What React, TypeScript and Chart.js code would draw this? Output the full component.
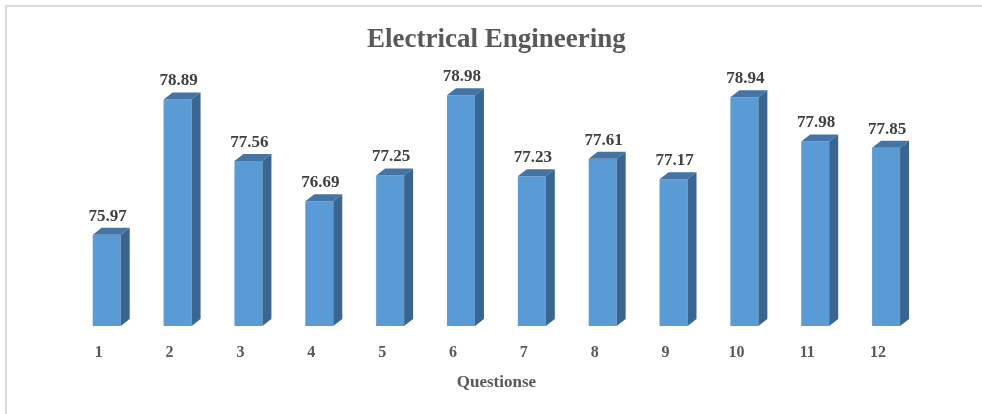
import React, { useEffect, useRef } from "react";
import { Chart, registerables } from "chart.js";

Chart.register(...registerables);

const categories = ["1", "2", "3", "4", "5", "6", "7", "8", "9", "10", "11", "12"];
const values = [75.97, 78.89, 77.56, 76.69, 77.25, 78.98, 77.23, 77.61, 77.17, 78.94, 77.98, 77.85];
const chartTitle = "Electrical Engineering";
const xTitle = "Questionse";

const DX = 9;
const DY = 7;

const bar3d = {
  id: "bar3d",
  afterDatasetsDraw(chart: any) {
    const ctx = chart.ctx;
    const meta = chart.getDatasetMeta(0);
    const bottom = chart.chartArea.bottom;
    ctx.save();
    meta.data.forEach((bar: any, i: number) => {
      const { x, y, width } = bar.getProps(["x", "y", "width"], true);
      const l = x - width / 2;
      const r = x + width / 2;
      // top face
      ctx.beginPath();
      ctx.moveTo(l, y);
      ctx.lineTo(l + DX, y - DY);
      ctx.lineTo(r + DX, y - DY);
      ctx.lineTo(r, y);
      ctx.closePath();
      ctx.fillStyle = "#4474a3";
      ctx.fill();
      // side face
      ctx.beginPath();
      ctx.moveTo(r, y);
      ctx.lineTo(r + DX, y - DY);
      ctx.lineTo(r + DX, bottom - DY);
      ctx.lineTo(r, bottom);
      ctx.closePath();
      ctx.fillStyle = "#3a6590";
      ctx.fill();
      // label
      ctx.font = "bold 17px 'Liberation Serif', 'Times New Roman', serif";
      ctx.fillStyle = "#404040";
      ctx.textAlign = "center";
      ctx.textBaseline = "middle";
      ctx.fillText(values[i].toFixed(2), x + 1, y - 18.5);
    });
    ctx.restore();
  },
};

export default function App() {
  const ref = useRef<HTMLCanvasElement>(null);
  useEffect(() => {
    if (!ref.current) return;
    const chart = new Chart(ref.current, {
      type: "bar",
      data: {
        labels: categories,
        datasets: [
          {
            data: values,
            backgroundColor: "#5b9bd5",
            borderColor: "#5b9bd5",
            borderWidth: 0,
            categoryPercentage: 1,
            barPercentage: 0.395,
          },
        ],
      },
      plugins: [bar3d],
      options: {
        responsive: false,
        animation: false,
        layout: { padding: { left: 71.3, right: 60.5, top: 0, bottom: 18 } },
        plugins: {
          legend: { display: false },
          tooltip: { enabled: false },
          title: {
            display: true,
            text: chartTitle,
            color: "#595959",
            font: { family: "'Liberation Serif', 'Times New Roman', serif", size: 27, weight: "bold" },
            padding: { top: 23.5, bottom: 0 },
          },
        },
        scales: {
          x: {
            grid: { display: false, drawTicks: false },
            border: { display: false },
            ticks: {
              color: "#595959",
              padding: 17.3,
              labelOffset: -8,
              font: { family: "'Liberation Serif', 'Times New Roman', serif", size: 16, weight: "bold" },
            },
            title: {
              display: true,
              text: xTitle,
              color: "#595959",
              padding: { top: -7, bottom: 2.8 },
              font: { family: "'Liberation Serif', 'Times New Roman', serif", size: 17, weight: "bold" },
            },
          },
          y: {
            display: false,
            min: 74,
            max: 79.83,
          },
        },
      },
    });
    return () => chart.destroy();
  }, []);
  return (
    <div style={{ position: "fixed", left: 0, top: 0, width: 982, height: 414, background: "#fff", overflow: "hidden" }}>
      <div
        style={{
          position: "absolute",
          left: 5,
          top: 5,
          width: 1000,
          height: 500,
          borderLeft: "2px solid #d9d9d9",
          borderTop: "2px solid #d9d9d9",
        }}
      />
      <canvas ref={ref} width={982} height={414} style={{ position: "absolute", left: 0, top: 0 }} />
    </div>
  );
}
